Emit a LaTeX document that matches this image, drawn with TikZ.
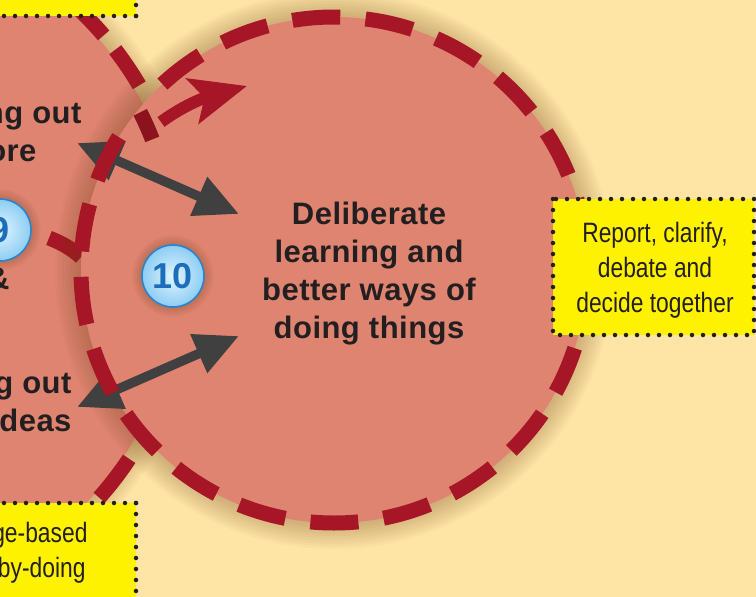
\documentclass[tikz,border=0pt]{standalone}
\usepackage{fontspec}
\setmainfont{Liberation Sans}
\newfontfamily\headfont{Liberation Sans}[LetterSpace=1.5]
\newfontfamily\narrowfont{Liberation Sans}[FakeStretch=0.815]
\usetikzlibrary{arrows.meta}

\definecolor{bgcream}{RGB}{254,229,166}
\definecolor{salmon}{RGB}{223,132,113}
\definecolor{dashred}{RGB}{166,22,38}
\definecolor{darkred}{RGB}{140,18,30}
\definecolor{arrowgray}{RGB}{64,64,64}
\definecolor{txt}{RGB}{35,31,32}
\definecolor{boxyellow}{RGB}{255,242,0}
\definecolor{glowc}{RGB}{120,70,30}
\definecolor{badgeblue}{RGB}{28,110,186}
\definecolor{badgerim}{RGB}{40,132,205}
\definecolor{badgelight}{RGB}{225,245,254}
\definecolor{badgemid}{RGB}{140,205,243}

\tikzset{
  ringline/.style={draw=dashred,line width=15pt},
  ringdash/.style={ringline,dash pattern=on 48pt off 25.4pt},
  twoway/.style={draw=arrowgray,line width=9.5pt,
    {Triangle[length=44pt,width=40pt]}-{Triangle[length=44pt,width=40pt]}},
  intoarrow/.style={draw=dashred,line width=12pt,
    -{Stealth[length=56pt,width=46pt,inset=12pt]}},
  bigtxt/.style={text=txt,font=\headfont\bfseries\fontsize{31}{38}\selectfont},
  notetxt/.style={text=txt,font=\narrowfont\fontsize{28}{35}\selectfont},
  dotline/.style={draw=txt,line width=4.5pt,line cap=round,dash pattern=on 0pt off 11pt},
  badge/.style={circle,minimum size=62pt,inner sep=0pt,draw=badgerim,line width=1.6pt,
    inner color=badgelight,outer color=badgemid,text=badgeblue,
    font=\bfseries\fontsize{36}{36}\selectfont}
}

\begin{document}
\begin{tikzpicture}[x=1pt,y=-1pt]
\useasboundingbox (0,0) rectangle (756,597);
\fill[bgcream] (0,0) rectangle (756,597);

\coordinate (c9) at (-164,264);
\coordinate (c10) at (334,270);

% bubble 9
\foreach \g in {1,...,10}
  \fill[glowc,opacity=0.035] (c9) circle[radius={346+2.6*\g}];
\fill[salmon] (c9) circle[radius=346];
\foreach \a/\b in {-46/-40.5,-37.5/-30.5,33.6/41.6}
  \draw[ringline] (c9) ++(\a:352) arc[start angle=\a,end angle=\b,radius=352];
\draw[ringline] (49,238) .. controls (62,243) and (72,249) .. (81,257);

% bubble 10
\foreach \g in {1,...,10}
  \fill[glowc,opacity=0.035] (c10) circle[radius={253+2.6*\g}];
\fill[salmon] (c10) circle[radius=253];
\draw[ringline,draw=darkred] (c9) ++(-26.5:340) arc[start angle=-26.5,end angle=-21.5,radius=340];

% arrows
\coordinate (a1l) at (77,143);
\coordinate (a1r) at (239,214);
\coordinate (a2l) at (77,407);
\coordinate (a2r) at (239,336);
\draw[twoway] (a1l) -- (a1r);
\draw[twoway] (a2l) -- (a2r);

\coordinate (r1) at (161,122);
\coordinate (r2) at (247,86);
\draw[intoarrow] (r1) .. controls (180,108) and (200,99) .. (r2);

% dashed ring of bubble 10
\draw[ringdash,dash phase=67.3pt] (c10) ++(0:253) arc[start angle=0,end angle=212,radius=253];
\draw[ringdash] (c10) ++(227.3:253) arc[start angle=227.3,end angle=360,radius=253];

% texts
\node[bigtxt,align=center] (deliberate) at (369,274)
  {Deliberate\\learning and\\better ways of\\doing things};
\node[bigtxt,anchor=base east] (l1) at (85,123) {ng out};
\node[bigtxt,anchor=base east] (l2) at (40,161) {ore};
\node[bigtxt,anchor=base east] (l3) at (13,289) {\&};
\node[bigtxt,anchor=base east] (l4) at (75,393) {g out};
\node[bigtxt,anchor=base east] (l5) at (75,431) {ideas};

% badges
\foreach \g in {1,...,6}{
  \fill[glowc,opacity=0.05] (173,276) circle[radius={31+1.6*\g}];
  \fill[glowc,opacity=0.05] (0,230) circle[radius={31+1.6*\g}];
}
\node[badge] (b10) at (173,276) {10};
\node[badge] (b9) at (0,230) {9};

% yellow notes
\fill[boxyellow] (-10,-10) rectangle (136,16);
\draw[dotline] (136,16) -- (-10,16);
\draw[dotline] (136,16) -- (136,-10);

\fill[boxyellow] (-10,503) rectangle (136,610);
\draw[dotline] (136,503) -- (-10,503);
\draw[dotline] (136,503) -- (136,610);
\node[notetxt,anchor=base east] (n1) at (91,542) {ge-based};
\node[notetxt,anchor=base east] (n2) at (89,577) {by-doing};

\fill[boxyellow] (553,199) rectangle (754,335);
\draw[dotline] (553,199) rectangle (754,335);
\node[notetxt,align=center] (report) at (655,270)
  {Report, clarify,\\debate and\\decide together};
\end{tikzpicture}
\end{document}
